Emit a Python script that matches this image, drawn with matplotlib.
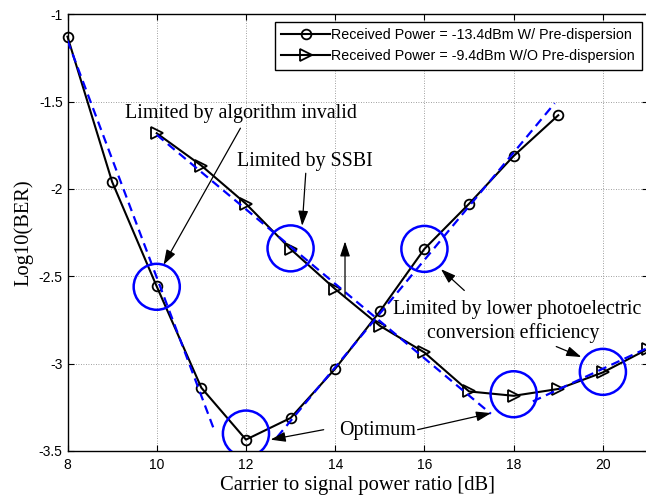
import matplotlib
matplotlib.use("Agg")
import matplotlib.pyplot as plt
from matplotlib.patches import Ellipse

# ---- data ----
x_w = [8, 9, 10, 11, 12, 13, 14, 15, 16, 17, 18, 19]
y_w = [-1.128, -1.959, -2.558, -3.138, -3.435, -3.311, -3.029, -2.701, -2.343, -2.085, -1.811, -1.578]

x_wo = [10, 11, 12, 13, 14, 15, 16, 17, 18, 19, 20, 21]
y_wo = [-1.681, -1.866, -2.085, -2.344, -2.573, -2.783, -2.936, -3.159, -3.184, -3.145, -3.050, -2.917]

label_w = "Received Power = -13.4dBm W/ Pre-dispersion"
label_wo = "Received Power = -9.4dBm W/O Pre-dispersion"

# blue dashed fit segments (start, end)
fit_x = [[8.0, 11.30], [10.0, 17.49], [12.7, 18.92], [18.43, 21.0]]
fit_y = [[-1.15, -3.388], [-1.69, -3.287], [-3.42, -1.509], [-3.216, -2.91]]

# blue circle centers
circ_x = [10, 12, 13, 16, 18, 20]
circ_y = [-2.56, -3.40, -2.34, -2.343, -3.175, -3.047]

xticks = [8, 10, 12, 14, 16, 18, 20]
yticks = [-3.5, -3, -2.5, -2, -1.5, -1]
ytick_labels = ["-3.5", "-3", "-2.5", "-2", "-1.5", "-1"]

serif = "Liberation Serif"
sans = "Liberation Sans"

fig = plt.figure(figsize=(6.46, 5.0), dpi=100)
ax = fig.add_axes([67.5 / 646, 0.098, (647.5 - 67.5) / 646, 0.8734])
ax.set_xlim(8, 21)
ax.set_ylim(-3.5, -1)

ax.grid(True, color="#808080", linestyle=(0, (1, 2)), linewidth=0.6)
ax.set_axisbelow(True)

ax.plot(x_w, y_w, color="black", linewidth=1.5, marker="o", markersize=7,
        markerfacecolor="none", markeredgewidth=1.3, label=label_w, zorder=3,
        clip_on=False)
ax.plot(x_wo, y_wo, color="black", linewidth=1.5, marker=">", markersize=8,
        markerfacecolor="none", markeredgewidth=1.3, label=label_wo, zorder=3,
        clip_on=False)

for fx, fy in zip(fit_x, fit_y):
    ax.plot(fx, fy, color="#0000ff", linestyle=(0, (4, 2.5)), linewidth=1.6, zorder=4)

# circles of ~23 px radius in screen space
rx = 23 / 44.5
ry = 23 / 174.8
for cx, cy in zip(circ_x, circ_y):
    ax.add_patch(Ellipse((cx, cy), 2 * rx, 2 * ry, fill=False, edgecolor="#0000ff",
                         linewidth=1.8, zorder=5))

ax.set_xticks(xticks)
ax.set_yticks(yticks)
ax.set_yticklabels(ytick_labels)
ax.tick_params(direction="in", top=True, right=True, length=4, width=0.8,
               labelsize=10)
ax.tick_params(axis="x", pad=5)
for lab in ax.get_xticklabels() + ax.get_yticklabels():
    lab.set_fontfamily(sans)
for s in ax.spines.values():
    s.set_linewidth(1.0)

ax.set_xlabel("Carrier to signal power ratio [dB]", fontfamily=serif, fontsize=14.8, labelpad=3)
ax.set_ylabel("Log10(BER)", fontfamily=serif, fontsize=14.8, labelpad=4)

leg = ax.legend(loc="upper right", prop={"family": sans, "size": 10.3}, frameon=True,
                fancybox=False, edgecolor="black", framealpha=1, borderpad=0.45,
                handlelength=3.4, handletextpad=0.1, labelspacing=0.5,
                borderaxespad=0)
leg.set_bbox_to_anchor((641.5 / 646, 1 - 21.5 / 500), transform=fig.transFigure)
leg.get_frame().set_linewidth(1.0)
leg.get_frame().set_facecolor("white")

tfs = 14.4
ax.text(9.29, -1.57, "Limited by algorithm invalid", fontfamily=serif, fontsize=tfs,
        va="center", ha="left")
ax.text(11.79, -1.845, "Limited by SSBI", fontfamily=serif, fontsize=tfs,
        va="center", ha="left")
ax.text(18.08, -2.69, "Limited by lower photoelectric", fontfamily=serif, fontsize=tfs,
        va="center", ha="center")
ax.text(18.0, -2.825, "conversion efficiency", fontfamily=serif, fontsize=tfs,
        va="center", ha="center")
ax.text(14.08, -3.384, "Optimum", fontfamily=serif, fontsize=tfs,
        va="center", ha="left")

arrow_kw = dict(arrowstyle="-|>,head_length=0.9,head_width=0.3", color="black",
                linewidth=0.9, shrinkA=0, shrinkB=0)
arrows = [
    ((11.876, -1.652), (10.153, -2.434)),
    ((13.34, -1.91), (13.26, -2.211)),
    ((14.22, -2.616), (14.22, -2.30)),
    ((16.894, -2.581), (16.371, -2.459)),
    ((18.955, -2.902), (19.517, -2.962)),
    ((13.742, -3.378), (12.551, -3.435)),
    ((15.847, -3.378), (17.494, -3.283)),
]
for start, end in arrows:
    ax.annotate("", xy=end, xytext=start, arrowprops=arrow_kw, zorder=6)

fig.savefig("out.png", dpi=100)
